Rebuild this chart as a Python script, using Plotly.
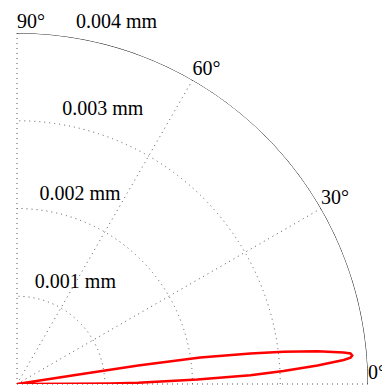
import numpy as np
import plotly.graph_objects as go

# Lobe curve (angle in degrees, radius in mm)
theta_deg = [0, 0.15, 0.31, 0.62, 1.43, 2.16, 2.80, 3.53, 4.21, 4.52, 4.87, 5.23, 5.52,
             6.24, 6.90, 7.46, 8.24, 8.69, 8.72, 8.8, 8.8]
r_mm = [0, 0.0006, 0.001062, 0.001381, 0.002056, 0.002662, 0.00304, 0.003431, 0.003732,
        0.003813, 0.003834, 0.003817, 0.003739, 0.003445, 0.003058, 0.002683, 0.002111,
        0.001397, 0.000693, 0.0003, 0]

radial_ticks = [0.001, 0.002, 0.003, 0.004]
radial_labels = ["0.001 mm", "0.002 mm", "0.003 mm", "0.004 mm"]
angular_ticks = [0, 30, 60, 90]
angular_labels = ["0°", "30°", "60°", "90°"]

R_MAX = 0.004
SECTOR = [0, 90]
LABEL_ANGLES = [81, 84, 81, 81]   # where each radial label sits (style)
FONT = dict(family="Liberation Serif", size=20, color="black")
GRID = dict(gridcolor="#555555", griddash="1px,4px", gridwidth=1)

fig = go.Figure()
# outer frame arc at the radial range maximum
arc_theta = np.linspace(SECTOR[0], SECTOR[1], 181)
fig.add_trace(go.Scatterpolar(
    r=np.full(arc_theta.size, R_MAX), theta=arc_theta, mode="lines",
    line=dict(color="black", width=1), cliponaxis=False,
    hoverinfo="skip", showlegend=False,
))
fig.add_trace(go.Scatterpolar(
    r=r_mm, theta=theta_deg, mode="lines",
    line=dict(color="#ff0000", width=2.5),
    hoverinfo="skip", showlegend=False,
))
# radial tick labels
fig.add_trace(go.Scatterpolar(
    r=radial_ticks, theta=LABEL_ANGLES, mode="markers+text",
    marker=dict(size=5, opacity=0),
    text=radial_labels, textposition="top right", textfont=FONT,
    cliponaxis=False, hoverinfo="skip", showlegend=False,
))
# angular tick labels, just outside the frame arc
fig.add_trace(go.Scatterpolar(
    r=[R_MAX] * len(angular_ticks), theta=angular_ticks, mode="text",
    text=angular_labels, textposition="top right", textfont=FONT,
    cliponaxis=False, hoverinfo="skip", showlegend=False,
))

# page body has an 8px default margin, so the figure is sized to fit inside it
fig.update_layout(
    width=382, height=379,
    margin=dict(l=9, r=22, t=25, b=3),
    paper_bgcolor="white",
    showlegend=False,
    polar=dict(
        sector=SECTOR,
        bgcolor="white",
        radialaxis=dict(range=[0, R_MAX], tickmode="array", tickvals=radial_ticks,
                        showticklabels=False, showline=False, ticks="", **GRID),
        angularaxis=dict(tickmode="array", tickvals=angular_ticks,
                         showticklabels=False, ticks="", showline=False,
                         direction="counterclockwise", rotation=0, **GRID),
    ),
)

fig.write_html("out.html", config={"displayModeBar": False})
